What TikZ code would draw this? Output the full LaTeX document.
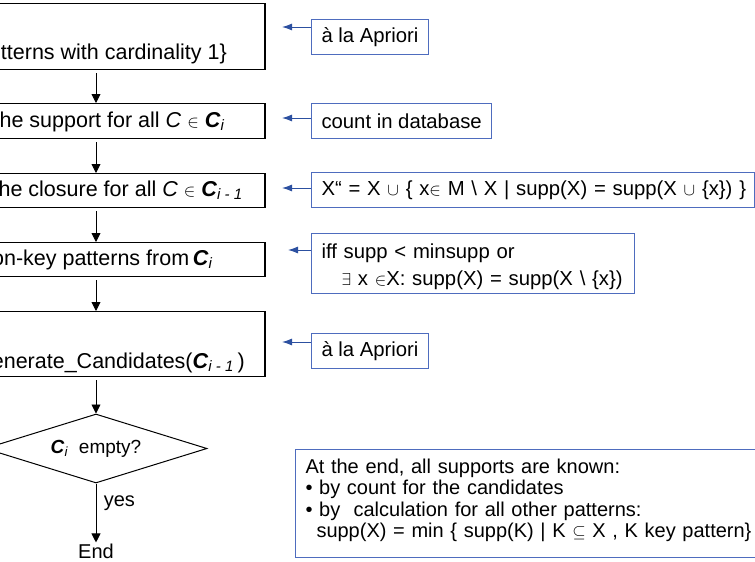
\documentclass[tikz,border=0pt]{standalone}
\usepackage{fontspec}
\setmainfont{Liberation Sans}
\usetikzlibrary{arrows.meta,shapes.geometric}
\definecolor{arrowblue}{RGB}{44,80,160}
\definecolor{boxblue}{RGB}{78,108,190}
\newcommand{\Cb}{\textbf{\textit{C}}}
\newcommand{\isub}[1]{\textsubscript{\textit{#1}}}
\newcommand{\smath}[1]{{\fontsize{16.5}{16.5}\selectfont$#1$}}

\begin{document}
\begin{tikzpicture}[x=1pt,y=-1pt,
    flowbox/.style={draw=black, line width=1.1pt, minimum width=338pt, anchor=north, inner sep=0pt},
    flowtext/.style={anchor=base east, inner sep=0pt, font=\fontsize{21.5}{24}\selectfont},
    flowarrow/.style={-{Triangle[length=9pt,width=9pt]}, line width=0.9pt, shorten <=3pt},
    notebox/.style={draw=boxblue, line width=1pt, anchor=north west, minimum height=35pt, inner xsep=10pt, inner ysep=0pt, align=left, font=\fontsize{20.3}{22}\selectfont},
    notearrow/.style={draw=arrowblue, -{Latex[length=10pt,width=7pt]}, line width=1pt, arrowblue}]
    \useasboundingbox (0,0) rectangle (755,562);
    \clip (0,0) rectangle (755,562);
    \node[flowbox, minimum height=66pt] (b1) at (96,3) {};
    \node[flowbox, minimum height=35pt] (b2) at (96,103) {};
    \node[flowbox, minimum height=34pt] (b3) at (96,173) {};
    \node[flowbox, minimum height=34pt] (b4) at (96,242) {};
    \node[flowbox, minimum height=65pt] (b5) at (96,311) {};
    \node[flowtext] (t1) at (227,59) {tterns with cardinality 1\}};
    \node[flowtext] (t2) at (225,127) {he support for all \textit{C} \smath{\in} \Cb\isub{i}};
    \node[flowtext] (t3) at (243,196) {he closure for all \textit{C} \smath{\in} \Cb\isub{i - 1}};
    \node[flowtext] (t4) at (213,265) {on-key patterns from\,\Cb\isub{i}};
    \node[flowtext] (t5) at (245,368) {enerate\_Candidates(\Cb\isub{i - 1}\,)};
    \node[draw, diamond, line width=1pt, aspect=3.2, minimum width=222pt, minimum height=69pt, inner sep=0pt, font=\fontsize{19}{21}\selectfont] (d) at (96,448.5) {\Cb\isub{i}\ \ empty?};
    \node[inner sep=1pt, font=\fontsize{20}{22}\selectfont] (e) at (96,551) {End};
    \draw[flowarrow] (b1.south) -- (b2.north);
    \draw[flowarrow] (b2.south) -- (b3.north);
    \draw[flowarrow] (b3.south) -- (b4.north);
    \draw[flowarrow] (b4.south) -- (b5.north);
    \draw[flowarrow] (b5.south) -- (d.north);
    \draw[flowarrow, shorten <=0pt] (d.south) -- node[right, pos=0.33, xshift=4pt, font=\fontsize{20}{22}\selectfont] {yes} (e.north);
    \node[notebox] (n1) at (311,19) {à la Apriori};
    \node[notebox] (n2) at (311,103) {count in database};
    \node[notebox, text width=423pt] (n3) at (311,172) {\mbox{X“ = X \smath{\cup} \{ x\smath{\in} M \textbackslash{} X | supp(X) = supp(X \smath{\cup} \{x\}) \}}};
    \node[notebox, text width=303pt, font=\fontsize{20.3}{27}\selectfont] (n4) at (311,233) {\rule{0pt}{25pt}iff supp < minsupp or\\ \mbox{\hspace*{20pt}\smath{\exists} x \smath{\in}X: supp(X) = supp(X \textbackslash{} \{x\})}\rule[-8pt]{0pt}{8pt}};
    \node[notebox] (n5) at (311,333) {à la Apriori};
    \node[notebox, text width=480pt, font=\fontsize{20}{21.3}\selectfont] (n6) at (295,449) {\rule{0pt}{24pt}At the end, all supports are known:\\ • by count for the candidates\\ • by\ \ calculation for all other patterns:\\ \mbox{\hspace*{11pt}supp(X) = min \{ supp(K) | K \smath{\subseteq} X , K key pattern\}}\rule[-20pt]{0pt}{20pt}};
    \coordinate (p1) at (282,27);
    \coordinate (p2) at (282,118);
    \coordinate (p3) at (282,188);
    \coordinate (p4) at (288,250);
    \coordinate (p5) at (282,342);
    \draw[notearrow] (p1 -| n1.west) -- (p1);
    \draw[notearrow] (p2 -| n2.west) -- (p2);
    \draw[notearrow] (p3 -| n3.west) -- (p3);
    \draw[notearrow] (p4 -| n4.west) -- (p4);
    \draw[notearrow] (p5 -| n5.west) -- (p5);
\end{tikzpicture}
\end{document}
